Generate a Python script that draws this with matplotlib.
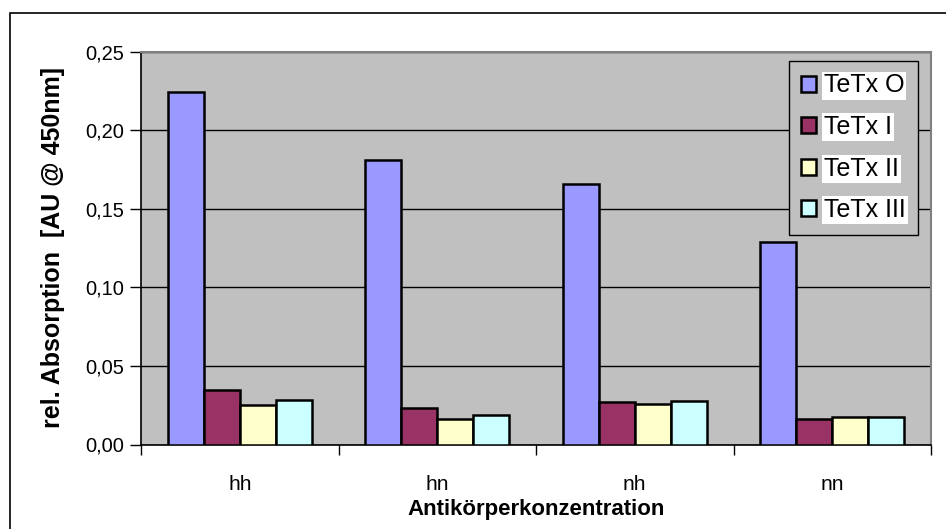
import numpy as np
import matplotlib.pyplot as plt
from matplotlib.patches import Rectangle

plt.rcParams['font.family'] = ['Liberation Sans', 'DejaVu Sans']

# Daten
kategorien = ['hh', 'hn', 'nh', 'nn']
serien = ['TeTx O', 'TeTx I', 'TeTx II', 'TeTx III']
tetx_o = [0.224, 0.181, 0.166, 0.129]
tetx_i = [0.0345, 0.023, 0.027, 0.016]
tetx_ii = [0.025, 0.0165, 0.0256, 0.0172]
tetx_iii = [0.0286, 0.0186, 0.0277, 0.0175]
farben = ['#9999FF', '#993366', '#FFFFCC', '#CCFFFF']
yticks = [0.0, 0.05, 0.10, 0.15, 0.20, 0.25]

werte = [tetx_o, tetx_i, tetx_ii, tetx_iii]

fig = plt.figure(figsize=(9.46, 5.29), dpi=100)
ax = fig.add_axes([141/946, 1 - 444.5/529, 790/946, 393/529])

# Rahmen um die ganze Grafik
fig.patches.append(Rectangle((10/946, -0.05), 1.2, 0.05 + 1 - 13/529,
                             transform=fig.transFigure, fill=False,
                             edgecolor='black', linewidth=1.2))

ax.set_facecolor('#C0C0C0')
x = np.arange(len(kategorien)) + 0.5
breite = 0.182
for i, (name, w) in enumerate(zip(serien, werte)):
    pos = x + (i - 1.5) * breite
    ax.bar(pos, w, width=breite, color=farben[i], edgecolor='black',
           linewidth=1.8, label=name, zorder=3)

ax.set_xlim(0, 4)
ax.set_ylim(0, 0.25)
ax.set_yticks(yticks)
ax.set_yticklabels([f'{v:.2f}'.replace('.', ',') for v in yticks], fontsize=14.5)
ax.yaxis.grid(True, color='black', linewidth=1, zorder=1)
ax.set_axisbelow(True)

ax.set_xticks(x)
ax.set_xticklabels(kategorien, fontsize=15)
ax.tick_params(axis='x', which='major', length=0, pad=22)
ax.set_xticks(np.arange(5), minor=True)
ax.tick_params(axis='x', which='minor', length=7, direction='out', width=1)
ax.tick_params(axis='y', length=8, direction='out', width=1, pad=4)

for s in ['top', 'right']:
    ax.spines[s].set_color('#808080')
    ax.spines[s].set_linewidth(1.5)
for s in ['left', 'bottom']:
    ax.spines[s].set_color('black')
    ax.spines[s].set_linewidth(1.2)

ax.set_ylabel('rel. Absorption  [AU @ 450nm]', fontsize=18, fontweight='bold', va='center')
ax.yaxis.set_label_coords((53 - 141) / 790, 0.5)
ax.set_xlabel('Antikörperkonzentration', fontsize=16, fontweight='bold', va='center')
ax.xaxis.set_label_coords(0.5, -(510 - 444.5) / 393)

leg = ax.legend(loc='upper right', bbox_to_anchor=(918/946, 1 - 61/529),
                bbox_transform=fig.transFigure, fontsize=18, fancybox=False,
                framealpha=1, facecolor='#C0C0C0', edgecolor='black',
                handlelength=0.6, handleheight=0.6, handletextpad=0.3,
                labelspacing=0.7, borderpad=0.5, borderaxespad=0)
leg.get_frame().set_linewidth(1)
for t in leg.get_texts():
    t.set_bbox(dict(facecolor='white', edgecolor='none', pad=1.5))

fig.savefig('out.png', dpi=100)
